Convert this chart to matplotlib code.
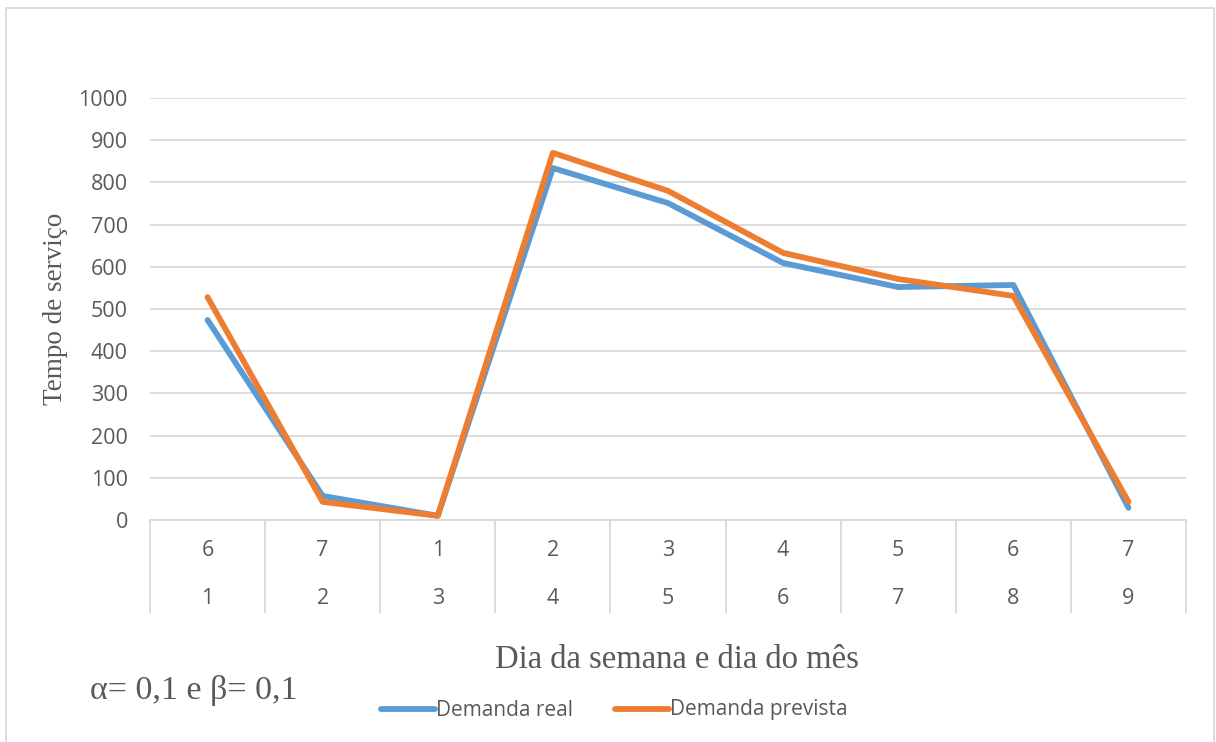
import matplotlib.pyplot as plt
import numpy as np

# dados
dia_semana = ['6', '7', '1', '2', '3', '4', '5', '6', '7']
dia_mes = ['1', '2', '3', '4', '5', '6', '7', '8', '9']
demanda_real = [474, 57, 10, 834, 751, 609, 552, 557, 29]
demanda_prevista = [528, 43, 10, 870, 780, 633, 571, 531, 43]
yticks = [0, 100, 200, 300, 400, 500, 600, 700, 800, 900, 1000]

W, H = 1216, 742
fig = plt.figure(figsize=(W / 100, H / 100), dpi=100)
fig.patch.set_facecolor('white')

def fx(px):
    return px / W

def fy(py):
    return 1 - py / H

left, right, top, bottom = 150, 1186, 98, 520
ax = fig.add_axes([fx(left), fy(bottom), fx(right - left), (bottom - top) / H])

sans = 'Open Sans'
serif = 'Liberation Serif'
grid_c = '#D9D9D9'
txt_c = '#595959'

x = np.arange(len(dia_mes))
ax.plot(x, demanda_real, color='#5B9BD5', lw=4.2, solid_capstyle='round',
        solid_joinstyle='round', clip_on=False, label='Demanda real', zorder=3)
ax.plot(x, demanda_prevista, color='#ED7D31', lw=4.2, solid_capstyle='round',
        solid_joinstyle='round', clip_on=False, label='Demanda prevista', zorder=4)

ax.set_xlim(-0.5, len(x) - 0.5)
ax.set_ylim(0, 1000)
ax.set_yticks(yticks)
ax.set_yticklabels([str(v) for v in yticks], fontfamily=sans, fontsize=15.5, color=txt_c)
ax.tick_params(axis='y', length=0, pad=16)
ax.set_xticks([])
ax.grid(axis='y', color=grid_c, lw=1.3)
ax.set_axisbelow(True)
for s in ['top', 'right', 'left']:
    ax.spines[s].set_visible(False)
ax.spines['bottom'].set_color(grid_c)
ax.spines['bottom'].set_linewidth(1.3)

# rotulos em dois niveis
trans = ax.get_xaxis_transform()
h_ax = bottom - top
for i in range(len(x)):
    ax.text(x[i], -(550 - bottom) / h_ax, dia_semana[i], transform=trans, ha='center', va='center',
            fontfamily=sans, fontsize=15.5, color=txt_c)
    ax.text(x[i], -(598 - bottom) / h_ax, dia_mes[i], transform=trans, ha='center', va='center',
            fontfamily=sans, fontsize=15.5, color=txt_c)
for b in np.arange(-0.5, len(x), 1.0):
    ax.plot([b, b], [0, -(612 - bottom) / h_ax], transform=trans, color=grid_c, lw=1.3, clip_on=False)

ax.set_ylabel('Tempo de serviço', fontfamily=serif, fontsize=19.5, color=txt_c)
ax.yaxis.set_label_coords((68 - left) / (right - left), 0.5)

fig.text(fx(677), fy(660), 'Dia da semana e dia do mês', ha='center', va='center',
         fontfamily=serif, fontsize=23.5, color=txt_c)
fig.text(fx(90), fy(690), 'α= 0,1 e β= 0,1', ha='left', va='center',
         fontfamily=serif, fontsize=24.5, color=txt_c)

leg = fig.legend(loc='center', bbox_to_anchor=(fx(614), fy(710)), ncol=2, frameon=False,
                 prop={'family': sans, 'size': 15}, handlelength=2.6, handletextpad=0.05,
                 columnspacing=2.0, borderpad=0, handleheight=0.5)
for t in leg.get_texts():
    t.set_color(txt_c)

# moldura do grafico
fig.add_artist(plt.Line2D([fx(6), fx(6), fx(1214), fx(1214)], [0, fy(8), fy(8), 0],
                          transform=fig.transFigure, color=grid_c, lw=1.3))

fig.savefig('out.png', dpi=100)
